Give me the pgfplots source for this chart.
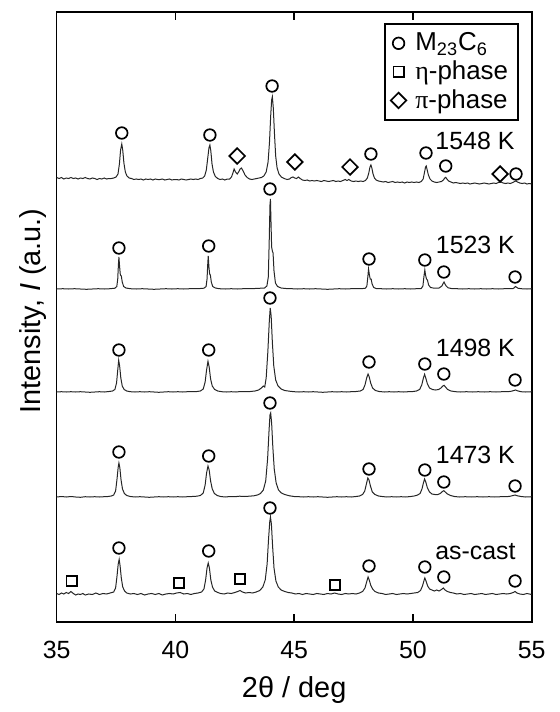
\documentclass[border=0pt]{standalone}
\usepackage{pgfplots}
\pgfplotsset{compat=1.18}
\usepackage{pgfplotstable}
\usepackage{fontspec}
\setmainfont{Liberation Sans}
\newfontfamily\symfont{Liberation Serif}

% as-cast (relative intensity, offset 28)
\pgfplotstableread{
x y
35.00 0.5
35.10 -0.5
35.20 1.0
35.30 0.0
35.40 1.5
35.50 0.5
35.60 2.5
35.70 0.5
35.80 -1.0
35.90 0.0
36.00 -0.5
36.10 0.5
36.20 -1.0
36.35 0.0
36.50 -0.5
36.65 1.0
36.80 -0.5
36.95 0.5
37.10 0.0
37.25 1.0
37.40 2.0
37.48 6
37.54 18
37.59 30
37.63 34.7
37.67 28
37.72 16
37.78 7
37.86 3
37.95 1.0
38.10 0.0
38.25 0.5
38.40 -0.5
38.55 0.5
38.70 -1.0
38.85 0.0
39.00 0.5
39.15 -0.5
39.30 0.5
39.45 -1.0
39.60 0.0
39.75 0.5
39.90 0.0
40.05 1.0
40.20 1.5
40.35 0.0
40.50 0.5
40.65 -0.5
40.80 0.5
40.95 1.0
41.10 2.0
41.20 5
41.27 14
41.33 26
41.38 31
41.43 26
41.49 14
41.56 7
41.65 3
41.78 1.5
41.90 0.5
42.05 0.0
42.20 1.0
42.35 0.5
42.50 1.5
42.62 2.5
42.72 3.5
42.82 2.0
42.95 1.0
43.10 1.5
43.25 1.0
43.40 2.0
43.55 3.5
43.68 7
43.78 14
43.86 30
43.92 55
43.97 72
44.00 77
44.04 70
44.09 48
44.15 26
44.23 13
44.33 7
44.45 4
44.60 2.5
44.75 1.5
44.90 1.0
45.05 0.0
45.20 0.5
45.35 -0.5
45.50 0.5
45.65 0.0
45.80 -0.5
45.95 0.5
46.10 0.0
46.25 -0.5
46.40 0.5
46.55 0.0
46.70 1.0
46.85 0.0
47.00 -0.5
47.15 0.5
47.30 0.0
47.45 0.5
47.60 0.0
47.75 1.0
47.88 2.5
47.98 6
48.05 12
48.11 17
48.16 14
48.22 9
48.30 5
48.40 2.5
48.55 1.0
48.70 0.5
48.85 -0.5
49.00 0.0
49.15 0.5
49.30 -0.5
49.45 0.0
49.60 0.5
49.75 0.0
49.90 0.5
50.05 1.0
50.20 1.5
50.32 3.5
50.40 8
50.46 13
50.50 16
50.55 13
50.62 8
50.70 5
50.80 4
50.90 3
51.00 4
51.10 3
51.20 4.5
51.28 6
51.35 4
51.45 2.5
51.58 1.5
51.70 1.0
51.85 0.0
52.00 0.5
52.15 -0.5
52.30 0.0
52.45 0.5
52.60 -0.5
52.75 0.0
52.90 0.5
53.05 -0.5
53.20 0.0
53.35 0.5
53.50 -0.5
53.65 0.0
53.80 0.5
53.95 0.0
54.10 0.5
54.22 1.5
54.30 2.5
54.38 1.0
54.50 0.0
54.65 -0.5
54.80 0.5
55.00 -0.5
}\ascast

% 1473 K (offset 125)
\pgfplotstableread{
x y
35.00 0
35.20 0.5
35.40 0
35.60 0.5
35.80 0
36.00 -0.3
36.20 0.3
36.40 0
36.60 0.3
36.80 0
37.00 0.3
37.15 0.5
37.30 1
37.40 2
37.48 6
37.54 18
37.59 30
37.62 34
37.66 29
37.71 17
37.77 8
37.85 3.5
37.95 1.5
38.10 0.5
38.30 0
38.50 0.3
38.70 0
38.90 -0.3
39.10 0
39.30 0.3
39.50 0
39.70 0.3
39.90 0
40.10 0.3
40.30 0
40.50 0.3
40.70 0.5
40.90 0.8
41.05 1.5
41.17 4
41.25 12
41.31 24
41.37 31
41.42 27
41.48 16
41.55 8
41.64 3.5
41.76 1.5
41.90 0.5
42.10 0
42.30 0.5
42.50 0.3
42.70 0.8
42.90 0.5
43.10 0.8
43.30 1.2
43.45 2
43.58 3.5
43.70 7
43.80 16
43.88 38
43.94 66
43.98 82
44.01 84
44.05 74
44.10 50
44.16 28
44.24 14
44.34 7
44.46 4
44.60 2.5
44.80 1.2
45.00 0.5
45.20 0.3
45.40 0
45.60 0.3
45.80 0
46.00 0.3
46.20 0
46.40 -0.3
46.60 0
46.80 0.3
47.00 0
47.20 0.3
47.40 0
47.60 0.5
47.75 1
47.88 2.5
47.97 6
48.04 13
48.10 19
48.15 17
48.21 11
48.29 5
48.40 2.5
48.55 1
48.70 0.5
48.90 0
49.10 0.3
49.30 0
49.50 0.3
49.70 0
49.90 0.5
50.05 1
50.18 1.8
50.30 3.5
50.38 8
50.44 14
50.49 18
50.54 15
50.61 9
50.70 5
50.80 3
50.92 2.5
51.05 2.5
51.15 3.5
51.24 5.5
51.30 6.3
51.36 5
51.45 3
51.58 1.5
51.75 0.5
51.95 0
52.20 0.3
52.45 0
52.70 0.3
52.95 0
53.20 0.3
53.45 0
53.70 0.3
53.95 0.3
54.10 0.8
54.22 1.5
54.30 2
54.40 1.2
54.55 0.5
54.75 0
55.00 0.3
}\kA

% 1498 K (offset 230)
\pgfplotstableread{
x y
35.00 0
35.20 0.3
35.40 0
35.60 0.3
35.80 0
36.00 0.3
36.20 0
36.40 -0.3
36.60 0
36.80 0.3
37.00 0
37.20 0.5
37.35 1
37.45 2.5
37.52 9
37.57 22
37.61 31.7
37.65 26
37.70 14
37.76 6
37.84 2.5
37.95 1
38.10 0.3
38.30 0
38.50 0.3
38.70 0
38.90 0.3
39.10 0
39.30 -0.3
39.50 0
39.70 0.3
39.90 0
40.10 0.3
40.30 0
40.50 0.3
40.70 0.3
40.90 0.5
41.05 1
41.17 3
41.25 10
41.31 22
41.37 30.7
41.42 25
41.48 13
41.55 6
41.65 2.5
41.78 1
41.95 0.3
42.15 0
42.35 0.3
42.55 0
42.75 0.5
42.95 0.3
43.15 0.5
43.35 1
43.50 2
43.62 4
43.70 6
43.76 5
43.82 14
43.89 40
43.95 70
43.99 84
44.03 76
44.08 50
44.14 26
44.22 12
44.32 6
44.45 3
44.60 1.5
44.80 0.8
45.00 0.3
45.20 0
45.40 0.3
45.60 0
45.80 0.3
46.00 0
46.20 -0.3
46.40 0
46.60 0.3
46.80 0
47.00 0.3
47.20 0
47.40 0.3
47.60 0.5
47.78 1
47.90 2.5
47.98 7
48.05 14
48.11 18
48.16 15
48.22 9
48.30 4
48.42 1.5
48.58 0.5
48.80 0
49.00 0.3
49.20 0
49.40 0.3
49.60 0
49.80 0.3
50.00 0.5
50.15 1
50.28 2.5
50.37 7
50.44 14
50.49 17.7
50.54 14
50.61 8
50.70 4
50.82 2.5
50.95 2
51.08 2.5
51.18 4
51.26 6
51.31 6.7
51.37 5
51.46 2.5
51.60 1
51.80 0.3
52.00 0
52.25 0.3
52.50 0
52.75 0.3
53.00 0
53.25 0.3
53.50 0
53.75 0.3
54.00 0.3
54.15 0.8
54.25 1.5
54.32 2
54.40 1.2
54.55 0.3
54.75 0
55.00 0.3
}\kB

% 1523 K (offset 333)
\pgfplotstableread{
x y
35.00 0
35.25 0.3
35.50 0
35.75 0.3
36.00 0
36.25 -0.3
36.50 0
36.75 0.3
37.00 0
37.25 0.3
37.45 0.8
37.53 2.5
37.57 10
37.60 25
37.62 32
37.65 22
37.68 14
37.72 13
37.76 7
37.82 2.5
37.92 1
38.10 0.3
38.35 0
38.60 0.3
38.85 0
39.10 -0.3
39.35 0
39.60 0.3
39.85 0
40.10 0.3
40.35 0
40.60 0.3
40.85 0.3
41.05 0.5
41.20 0.8
41.29 2.5
41.33 10
41.36 25
41.38 33
41.41 22
41.44 15
41.47 14
41.51 7
41.57 2.5
41.68 1
41.85 0.3
42.10 0
42.35 0.3
42.60 0
42.85 0.3
43.10 0.3
43.35 0.5
43.60 0.8
43.75 1
43.85 3
43.91 12
43.95 50
43.98 84
44.00 90
44.02 70
44.05 42
44.08 38
44.11 36
44.15 18
44.21 6
44.30 2.5
44.45 1
44.65 0.5
44.90 0.3
45.15 0
45.40 0.3
45.65 0
45.90 0.3
46.15 0
46.40 -0.3
46.65 0
46.90 0.3
47.15 0
47.40 0.3
47.65 0.3
47.90 0.5
48.00 0.8
48.06 3
48.10 12
48.13 20
48.16 15
48.20 10
48.24 10
48.28 5
48.35 1.5
48.45 0.5
48.65 0.3
48.90 0
49.15 0.3
49.40 0
49.65 0.3
49.90 0
50.15 0.3
50.35 0.5
50.42 3
50.46 12
50.50 19
50.53 14
50.57 10
50.61 9
50.66 4
50.74 1.5
50.90 0.8
51.10 1
51.22 3
51.28 6
51.31 7
51.35 5
51.40 3
51.48 1.2
51.62 0.5
51.85 0.3
52.10 0
52.35 0.3
52.60 0
52.85 0.3
53.10 0
53.35 0.3
53.60 0
53.85 0.3
54.05 0.3
54.22 0.5
54.28 1.5
54.31 2.5
54.35 2
54.42 0.8
54.55 0.3
54.80 0
55.00 0.3
}\kC

% 1548 K (offset 444)
\pgfplotstableread{
x y
35.00 0.5
35.10 -0.5
35.20 0.5
35.30 -1.0
35.40 0.0
35.50 -0.5
35.60 0.5
35.70 -0.5
35.80 0.0
35.90 -1.0
36.00 0.0
36.10 -0.5
36.20 0.5
36.30 -0.5
36.40 -1.0
36.50 0.0
36.60 -0.5
36.70 -1.5
36.80 -0.5
36.90 -1.0
37.00 0.0
37.10 -1.0
37.20 -0.5
37.30 -0.5
37.40 0.0
37.50 1.0
37.58 4
37.64 14
37.69 28
37.74 34
37.78 28
37.83 15
37.89 6
37.96 2
38.05 0.0
38.15 -0.5
38.25 -1.5
38.35 -1.0
38.45 -1.5
38.55 -1.0
38.65 -2.0
38.75 -1.0
38.85 -1.5
38.95 -1.0
39.05 -2.0
39.15 -1.0
39.25 -1.5
39.35 -1.5
39.45 -1.0
39.55 -2.0
39.65 -1.5
39.75 -1.0
39.85 -2.0
39.95 -1.5
40.05 -1.5
40.15 -2.0
40.25 -1.0
40.35 -1.5
40.45 -2.0
40.55 -1.5
40.65 -1.0
40.75 -1.5
40.85 -1.0
40.95 -1.5
41.05 -0.5
41.15 0.0
41.23 2
41.30 8
41.36 20
41.41 30
41.45 33
41.49 27
41.54 14
41.60 6
41.68 1.5
41.78 -0.5
41.88 -1.5
41.98 -1.0
42.08 -2.0
42.18 -1.0
42.28 -1.0
42.36 1.0
42.42 5
42.47 9
42.53 6
42.60 4
42.66 6
42.72 9
42.78 10
42.85 7
42.93 3
43.02 0.5
43.12 -1.0
43.22 -1.5
43.32 -1.0
43.42 -0.5
43.52 0.0
43.62 0.5
43.72 2
43.82 6
43.90 16
43.96 36
44.01 62
44.05 78
44.08 81.3
44.12 70
44.17 44
44.22 22
44.28 10
44.36 4
44.46 1
44.58 -0.5
44.70 -1.5
44.80 -1.0
44.88 0.5
44.95 1.0
45.02 0.0
45.10 -0.5
45.18 1.0
45.25 -0.5
45.35 -2.0
45.45 -2.5
45.55 -2.0
45.65 -3.0
45.75 -2.5
45.85 -3.0
45.95 -2.5
46.05 -3.0
46.15 -3.5
46.25 -2.5
46.35 -3.0
46.45 -3.5
46.55 -3.0
46.65 -2.5
46.75 -3.5
46.85 -3.0
46.95 -3.5
47.05 -2.5
47.15 -1.5
47.22 -2.5
47.30 -1.5
47.40 -3.0
47.50 -3.5
47.60 -3.0
47.70 -3.5
47.80 -3.0
47.90 -3.5
48.00 -2.5
48.08 0
48.14 5
48.19 11
48.23 13
48.27 10
48.32 4
48.38 0
48.45 -2.0
48.55 -3.0
48.65 -3.5
48.75 -4.0
48.85 -3.5
48.95 -4.5
49.05 -4.0
49.15 -3.5
49.25 -4.5
49.35 -4.0
49.45 -4.5
49.55 -4.0
49.65 -5.0
49.75 -4.0
49.85 -4.5
49.95 -4.0
50.05 -4.5
50.15 -4.0
50.25 -4.5
50.35 -3.5
50.43 -1
50.49 6
50.53 11
50.56 12
50.60 8
50.65 3
50.72 -1
50.80 -3.0
50.90 -4.0
51.00 -4.5
51.10 -4.0
51.20 -3.5
51.28 -2.0
51.34 0
51.38 0.7
51.43 -1.0
51.50 -3.0
51.60 -4.0
51.70 -5.0
51.80 -4.5
51.90 -5.0
52.00 -5.5
52.10 -5.0
52.20 -5.5
52.30 -5.0
52.40 -6.0
52.50 -5.5
52.60 -5.0
52.70 -5.5
52.80 -6.0
52.90 -5.5
53.00 -5.0
53.10 -5.5
53.20 -6.0
53.30 -5.5
53.40 -5.0
53.50 -5.5
53.60 -4.5
53.70 -4.0
53.80 -5.0
53.90 -5.5
54.00 -5.0
54.10 -5.5
54.20 -4.5
54.28 -3.5
54.34 -3.0
54.40 -4.0
54.50 -5.0
54.60 -5.5
54.70 -5.0
54.80 -6.0
54.90 -5.5
55.00 -6.0
}\kD

\begin{document}
\begin{tikzpicture}
\path[use as bounding box] (-28.35bp,-45bp) rectangle (251.65bp,311bp);
\begin{axis}[
  width=237.5bp, height=305bp, scale only axis,
  xmin=35, xmax=55, ymin=0, ymax=610,
  xtick={35,40,45,50,55}, ytick=\empty,
  tick align=inside, major tick length=4bp,
  axis line style={line width=0.8bp},
  every tick/.style={black, line width=0.8bp},
  /pgf/number format/assume math mode=true,
  ticklabel style={font=\fontsize{12.5}{14}\selectfont},
  xticklabel style={yshift=-6bp},
  xlabel={2θ / deg},
  ylabel={Intensity, \textit{I} (a.u.)},
  label style={font=\fontsize{14.5}{16}\selectfont},
  xlabel style={at={(axis description cs:0.5,-0.112)}, anchor=center},
  ylabel style={at={(axis description cs:-0.05,0.51)}, anchor=center},
  legend style={at={(rel axis cs:0.973,0.982)}, anchor=north east,
    draw=black, line width=0.8bp, font=\fontsize{13}{14.5}\selectfont,
    inner xsep=3bp, inner ysep=2.5bp, row sep=-0.5bp,
    /tikz/every odd column/.append style={column sep=2.5bp}},
  legend cell align=left,
  trace/.style={black!85, line width=0.5bp},
  circ/.style={only marks, mark=o, mark size=2.9bp, mark options={line width=0.85bp, black}},
  sq/.style={only marks, mark=square, mark size=2.6bp, mark options={line width=0.85bp, black}},
  dia/.style={only marks, mark=square, mark size=2.75bp, mark options={line width=0.85bp, black, rotate=45}},
]
\addlegendimage{circ}
\addlegendentry{M\textsubscript{23}C\textsubscript{6}}
\addlegendimage{sq}
\addlegendentry{{\symfont η}-phase}
\addlegendimage{dia}
\addlegendentry{{\symfont π}-phase}

\addplot[trace, forget plot] table[x=x, y expr=\thisrow{y}+28] {\ascast};
\addplot[trace, forget plot] table[x=x, y expr=\thisrow{y}+125] {\kA};
\addplot[trace, forget plot] table[x=x, y expr=\thisrow{y}+230] {\kB};
\addplot[trace, forget plot] table[x=x, y expr=\thisrow{y}+333] {\kC};
\addplot[trace, forget plot] table[x=x, y expr=\thisrow{y}+444] {\kD};

% M23C6 markers
\addplot[circ, forget plot] coordinates {(37.62,74) (41.4,71) (43.98,114) (48.15,56) (50.5,55) (51.3,45) (54.3,41)};
\addplot[circ, forget plot] coordinates {(37.62,170) (41.4,166) (43.98,219) (48.15,153) (50.5,152) (51.3,140) (54.3,136)};
\addplot[circ, forget plot] coordinates {(37.62,272) (41.4,272) (43.98,324) (48.15,260) (50.5,258) (51.3,248) (54.3,242)};
\addplot[circ, forget plot] coordinates {(37.62,374) (41.4,376) (43.98,433) (48.15,363) (50.5,362) (51.3,350) (54.3,345)};
\addplot[circ, forget plot] coordinates {(37.74,489) (41.45,487) (44.07,536) (48.23,468) (50.55,469) (51.38,456) (54.34,448)};
% eta-phase
\addplot[sq, forget plot] coordinates {(35.63,41) (40.15,39) (42.72,43) (46.72,37)};
% pi-phase
\addplot[dia, forget plot] coordinates {(42.6,466) (45.03,460) (47.35,455) (53.67,448)};

\node[font=\fontsize{12.5}{14}\selectfont] at (axis cs:52.61,481) {1548 K};
\node[font=\fontsize{12.5}{14}\selectfont] at (axis cs:52.63,377) {1523 K};
\node[font=\fontsize{12.5}{14}\selectfont] at (axis cs:52.63,274) {1498 K};
\node[font=\fontsize{12.5}{14}\selectfont] at (axis cs:52.63,167) {1473 K};
\node[font=\fontsize{12.5}{14}\selectfont] at (axis cs:52.63,70) {as-cast};
\end{axis}
\end{tikzpicture}
\end{document}
